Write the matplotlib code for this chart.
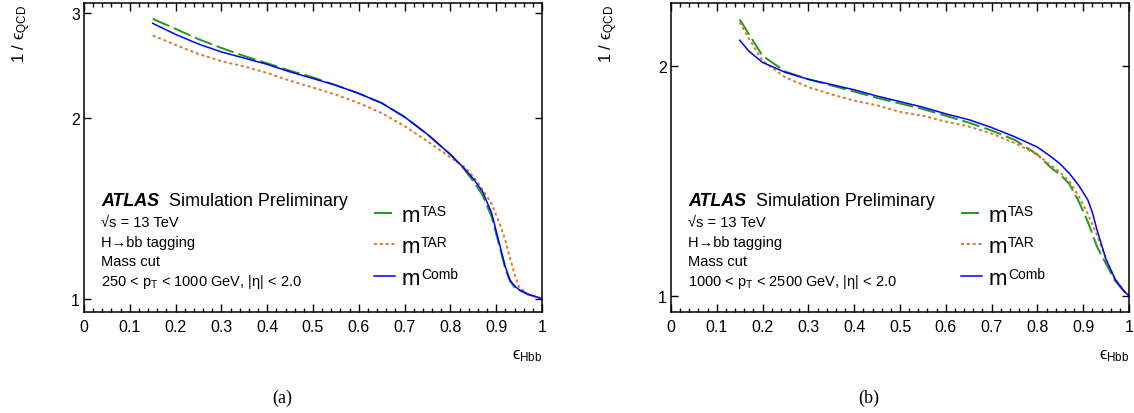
import numpy as np
import matplotlib
matplotlib.use('Agg')
import matplotlib.pyplot as plt
from matplotlib.ticker import FixedLocator, NullLocator, MultipleLocator

plt.rcParams['font.family'] = ['Liberation Sans', 'DejaVu Sans']
plt.rcParams['mathtext.fontset'] = 'custom'
plt.rcParams['mathtext.rm'] = 'Liberation Sans'
plt.rcParams['mathtext.it'] = 'Liberation Sans:italic'
plt.rcParams['mathtext.bf'] = 'Liberation Sans:bold'

# signal efficiency grid and background rejection, 250 < pT < 1000 GeV
eff_lo = [0.15, 0.2, 0.25, 0.3, 0.35, 0.4, 0.45, 0.5, 0.55, 0.6, 0.65, 0.7,
          0.75, 0.8, 0.83, 0.85, 0.87, 0.89, 0.91, 0.92, 0.93, 0.94, 0.95,
          0.97, 1.0]
tas_lo = [2.93, 2.82, 2.71, 2.62, 2.54, 2.47, 2.40, 2.34, 2.27, 2.20, 2.12,
          2.01, 1.88, 1.74, 1.645, 1.57, 1.49, 1.37, 1.20, 1.12, 1.07, 1.045,
          1.033, 1.016, 1.0]
tar_lo = [2.75, 2.65, 2.56, 2.49, 2.44, 2.38, 2.31, 2.25, 2.19, 2.12, 2.04,
          1.94, 1.83, 1.72, 1.66, 1.60, 1.52, 1.44, 1.32, 1.25, 1.17, 1.10,
          1.045, 1.015, 1.0]
comb_lo = [2.88, 2.76, 2.66, 2.58, 2.52, 2.46, 2.39, 2.33, 2.27, 2.20, 2.12,
           2.01, 1.88, 1.74, 1.65, 1.585, 1.51, 1.39, 1.21, 1.13, 1.075,
           1.05, 1.035, 1.017, 1.0]

# 1000 < pT < 2500 GeV
eff_hi = [0.15, 0.17, 0.2, 0.25, 0.3, 0.35, 0.4, 0.45, 0.5, 0.55, 0.6, 0.65,
          0.7, 0.75, 0.8, 0.83, 0.85, 0.87, 0.89, 0.91, 0.92, 0.93, 0.95,
          0.97, 0.99, 1.0]
tas_hi = [2.30, 2.20, 2.06, 1.965, 1.92, 1.885, 1.85, 1.815, 1.785, 1.755,
          1.72, 1.685, 1.645, 1.60, 1.53, 1.47, 1.44, 1.40, 1.33, 1.25, 1.205,
          1.16, 1.10, 1.045, 1.012, 1.0]
tar_hi = [2.28, 2.17, 2.03, 1.93, 1.875, 1.835, 1.80, 1.775, 1.74, 1.72,
          1.69, 1.665, 1.63, 1.585, 1.53, 1.48, 1.45, 1.41, 1.35, 1.28, 1.24,
          1.20, 1.115, 1.05, 1.013, 1.0]
comb_hi = [2.16, 2.09, 2.02, 1.96, 1.92, 1.89, 1.86, 1.825, 1.795, 1.765,
           1.73, 1.70, 1.66, 1.615, 1.565, 1.52, 1.487, 1.445, 1.395, 1.335,
           1.285, 1.22, 1.115, 1.05, 1.012, 1.0]

xticks = [0, 0.1, 0.2, 0.3, 0.4, 0.5, 0.6, 0.7, 0.8, 0.9, 1]
xticklabels = ['0', '0.1', '0.2', '0.3', '0.4', '0.5', '0.6', '0.7', '0.8', '0.9', '1']

panels = [
    dict(eff=eff_lo, tas=tas_lo, tar=tar_lo, comb=comb_lo, ylim=(0.95, 3.12),
         yticks=[1, 2, 3], ptcut='250 < p$_{\\rm T}$ < 1000 GeV, |η| < 2.0',
         left=84, tag='(a)'),
    dict(eff=eff_hi, tas=tas_hi, tar=tar_hi, comb=comb_hi, ylim=(0.952, 2.42),
         yticks=[1, 2], ptcut='1000 < p$_{\\rm T}$ < 2500 GeV, |η| < 2.0',
         left=671, tag='(b)'),
]

W, H = 1134, 414
fig = plt.figure(figsize=(W / 100, H / 100), dpi=100)

green = '#23981f'
orange = '#d9772b'
blue = '#0000ff'
eps = '$\\mathrm{\u03f5}_{\\rm %s}$'

legends = []
for p in panels:
    ax = fig.add_axes([p['left'] / W, 101 / H, 458 / W, 309.5 / H])
    ax.set_yscale('log')
    ax.plot(p['eff'], p['tas'], color=green, lw=1.4, dashes=(9.3, 2.6), label='m')
    ax.plot(p['eff'], p['tar'], color=orange, lw=1.4, dashes=(1.5, 1.5), label='m')
    ax.plot(p['eff'], p['comb'], color=blue, lw=1.1, label='m')

    ax.set_xlim(0, 1)
    ax.set_ylim(*p['ylim'])
    ax.xaxis.set_major_locator(FixedLocator(xticks))
    ax.set_xticklabels(xticklabels)
    ax.xaxis.set_minor_locator(MultipleLocator(0.02))
    ax.yaxis.set_major_locator(FixedLocator(p['yticks']))
    ax.set_yticklabels([str(v) for v in p['yticks']])
    ax.yaxis.set_minor_locator(NullLocator())
    ax.tick_params(which='both', direction='in', top=True, right=True,
                   labelsize=11.5, width=1.0)
    ax.tick_params(axis='x', which='major', length=6, pad=5)
    ax.tick_params(axis='x', which='minor', length=3)
    ax.tick_params(axis='y', which='major', length=5, pad=3)
    for s in ax.spines.values():
        s.set_linewidth(1.1)

    ax.text(-0.135, 0.995, '1 / ' + eps % 'QCD', rotation=90,
            ha='center', va='top', fontsize=12, transform=ax.transAxes)
    ax.text(1.0, -0.14, eps % 'Hbb', ha='right', va='center',
            fontsize=12, transform=ax.transAxes)

    ax.text(0.039, 0.359, 'ATLAS', fontsize=12.9, fontweight='bold',
            fontstyle='italic', va='center', transform=ax.transAxes)
    ax.text(0.1856, 0.359, 'Simulation Preliminary', fontsize=12.9,
            va='center', transform=ax.transAxes)
    sub = ['√s = 13 TeV', 'H→bb tagging', 'Mass cut', p['ptcut']]
    for i, line in enumerate(sub):
        ax.text(0.037, 0.29 - i * 0.063, line, fontsize=10.5, va='center',
                transform=ax.transAxes)

    leg = ax.legend(loc='upper left', bbox_to_anchor=(0.633, 0.347),
                    frameon=False, fontsize=16, handlelength=0.95,
                    handletextpad=0.3, labelspacing=0.48, borderpad=0,
                    borderaxespad=0)
    legends.append(leg)

    fig.text((p['left'] + 198) / W, 16 / H, p['tag'], ha='center',
             va='center', fontsize=13, family='Liberation Serif')

# superscripts next to the legend entries
fig.canvas.draw()
sups = ['TAS', 'TAR', 'Comb']
for leg in legends:
    for t, s in zip(leg.get_texts(), sups):
        bb = t.get_window_extent()
        fig.text((bb.x1 + 1) / W, (bb.y1 + 1) / H, s, fontsize=10,
                 ha='left', va='top')

fig.savefig('out.png', dpi=100)
